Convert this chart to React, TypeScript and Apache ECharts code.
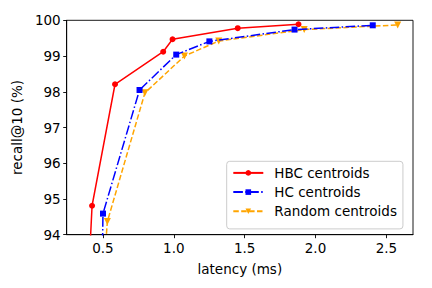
import React, { useEffect, useRef } from "react";
import * as echarts from "echarts";

const hbcLatency = [0.355, 0.423, 0.585, 0.925, 0.991, 1.451, 1.88];
const hbcRecall = [89.3, 94.81, 98.21, 99.12, 99.47, 99.78, 99.89];
const hcLatency = [0.49, 0.5, 0.758, 1.017, 1.251, 1.852, 2.404];
const hcRecall = [92.0, 94.59, 98.05, 99.04, 99.41, 99.74, 99.86];
const rndLatency = [0.5, 0.531, 0.796, 1.075, 1.317, 1.92, 2.58];
const rndRecall = [92.7, 94.37, 97.97, 99.0, 99.42, 99.74, 99.87];
const xTicks = [0.5, 1.0, 1.5, 2.0, 2.5];
const seriesNames = ["HBC centroids", "HC centroids", "Random centroids"];

const FONT = "DejaVu Sans";

export default function App() {
  const ref = useRef<HTMLDivElement>(null);
  useEffect(() => {
    if (!ref.current) return;
    const chart = echarts.init(ref.current, undefined, { renderer: "svg" });
    const zip = (a: number[], b: number[]) => a.map((v, i) => [v, b[i]]);
    chart.setOption({
      animation: false,
      backgroundColor: "#ffffff",
      textStyle: { fontFamily: FONT },
      grid: {
        left: 66.7,
        right: 19,
        top: 20.3,
        bottom: 53.3,
        show: true,
        borderColor: "#000",
        borderWidth: 0.9,
        containLabel: false,
      },
      legend: {
        left: 226.7,
        top: 161.3,
        orient: "vertical",
        itemWidth: 30,
        itemHeight: 7,
        itemGap: 0,
        padding: [2, 6, 8, 5.6],
        borderColor: "#cccccc",
        borderWidth: 1,
        borderRadius: 3,
        backgroundColor: "rgba(255,255,255,0.8)",
        textStyle: {
          fontFamily: FONT,
          fontSize: 13.5,
          color: "#000",
          lineHeight: 19.2,
          padding: [0, 0, 0, 6],
        },
        data: seriesNames,
      },
      xAxis: {
        type: "value",
        min: 0.244,
        max: 2.688,
        name: "latency (ms)",
        nameLocation: "middle",
        nameGap: 27,
        nameTextStyle: { fontFamily: FONT, fontSize: 13.5, color: "#000" },
        axisLine: { show: true, lineStyle: { color: "#000", width: 0.9 } },
        axisTick: {
          show: true,
          customValues: xTicks,
          length: 3.5,
          lineStyle: { color: "#000", width: 0.9 },
        },
        axisLabel: {
          customValues: xTicks,
          formatter: (v: number) => v.toFixed(1),
          fontFamily: FONT,
          fontSize: 13.5,
          color: "#000",
          margin: 6,
        },
        splitLine: { show: false },
      },
      yAxis: {
        type: "value",
        min: 94,
        max: 100,
        interval: 1,
        name: "recall@10 (%)",
        nameLocation: "middle",
        nameGap: 34,
        nameTextStyle: { fontFamily: FONT, fontSize: 13.5, color: "#000" },
        axisLine: { show: true, lineStyle: { color: "#000", width: 0.9 } },
        axisTick: { show: true, length: 3.5, lineStyle: { color: "#000", width: 0.9 } },
        axisLabel: { fontFamily: FONT, fontSize: 13.5, color: "#000", margin: 6 },
        splitLine: { show: false },
      },
      series: [
        {
          name: seriesNames[0],
          type: "line",
          data: zip(hbcLatency, hbcRecall),
          color: "#ff0000",
          symbol: "circle",
          symbolSize: 6,
          lineStyle: { width: 1.5, color: "#ff0000" },
          itemStyle: { color: "#ff0000" },
          clip: true,
          z: 4,
        },
        {
          name: seriesNames[1],
          type: "line",
          data: zip(hcLatency, hcRecall),
          color: "#0000ff",
          symbol: "rect",
          symbolSize: 6,
          lineStyle: { width: 1.5, color: "#0000ff", type: [9.6, 2.4, 1.5, 2.4] },
          itemStyle: { color: "#0000ff" },
          clip: true,
          z: 3,
        },
        {
          name: seriesNames[2],
          type: "line",
          data: zip(rndLatency, rndRecall),
          color: "#ffa500",
          symbol: "triangle",
          symbolRotate: 180,
          symbolSize: 7,
          lineStyle: { width: 1.5, color: "#ffa500", type: [5.5, 2.4] },
          itemStyle: { color: "#ffa500" },
          clip: true,
          z: 2,
        },
      ],
    });
    return () => chart.dispose();
  }, []);
  return (
    <div
      ref={ref}
      style={{ position: "fixed", left: 0, top: 0, width: 432, height: 288 }}
    />
  );
}
